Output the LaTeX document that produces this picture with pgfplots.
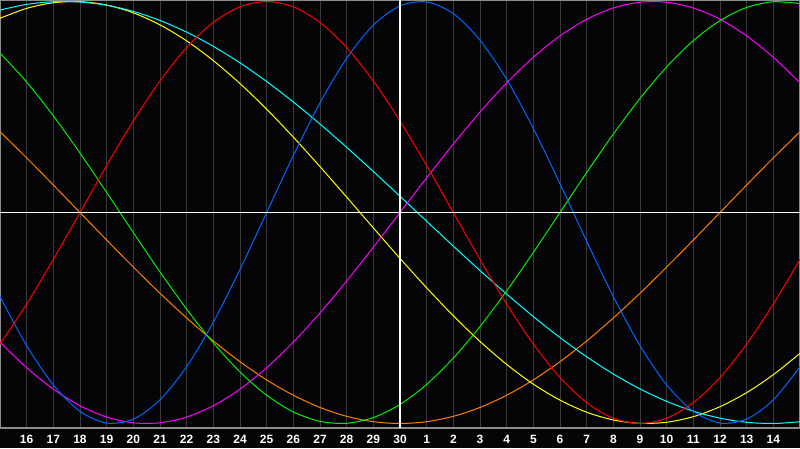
\documentclass[border=0pt]{standalone}
\usepackage{fontspec}
\setmainfont{Liberation Sans}
\usepackage{pgfplots}
\usepackage{pgfplotstable}
\pgfplotsset{compat=1.18}

\definecolor{bgc}{RGB}{5,5,8}
\definecolor{gridc}{RGB}{58,58,58}
\definecolor{framec}{RGB}{140,140,140}
\definecolor{cred}{RGB}{255,0,0}
\definecolor{cblue}{RGB}{0,102,255}
\definecolor{cgreen}{RGB}{0,240,0}
\definecolor{cmag}{RGB}{255,0,255}
\definecolor{ccyan}{RGB}{0,255,255}
\definecolor{cyel}{RGB}{255,255,0}
\definecolor{corange}{RGB}{255,128,0}

% day index k (0 = day 15), curve values between -1 and 1
\pgfplotstableread{
k  red     blue    green   mag     cyan    yel     orange
0  -0.6235 -0.3984  0.7557 -0.6142  0.9598  0.9203  0.3827
1  -0.4339 -0.6311  0.6182 -0.7357  0.9863  0.9675  0.2588
2  -0.2225 -0.8170  0.4582 -0.8372  0.9989  0.9940  0.1305
3   0.0000 -0.9423  0.2817 -0.9158  0.9975  0.9993  0.0000
4   0.2225 -0.9977  0.0951 -0.9694  0.9821  0.9834 -0.1305
5   0.4339 -0.9791 -0.0951 -0.9966  0.9529  0.9464 -0.2588
6   0.6235 -0.8879 -0.2817 -0.9966  0.9103  0.8893 -0.3827
7   0.7818 -0.7308 -0.4582 -0.9694  0.8549  0.8133 -0.5000
8   0.9010 -0.5197 -0.6182 -0.9158  0.7875  0.7199 -0.6088
9   0.9749 -0.2698 -0.7557 -0.8372  0.7093  0.6111 -0.7071
10  1.0000  0.0000 -0.8660 -0.7357  0.6208  0.4894 -0.7934
11  0.9749  0.2698 -0.9450 -0.6142  0.5238  0.3572 -0.8660
12  0.9010  0.5197 -0.9898 -0.4759  0.4193  0.2174 -0.9239
13  0.7818  0.7308 -0.9989 -0.3247  0.3090  0.0730 -0.9659
14  0.6235  0.8879 -0.9718 -0.1646  0.1943 -0.0730 -0.9914
15  0.4339  0.9791 -0.9096  0.0000  0.0770 -0.2174 -1.0000
16  0.2225  0.9977 -0.8146  0.1646 -0.0415 -0.3572 -0.9914
17  0.0000  0.9423 -0.6900  0.3247 -0.1594 -0.4894 -0.9659
18 -0.2225  0.8170 -0.5406  0.4759 -0.2750 -0.6111 -0.9239
19 -0.4339  0.6311 -0.3717  0.6142 -0.3868 -0.7199 -0.8660
20 -0.6235  0.3984 -0.1893  0.7357 -0.4932 -0.8133 -0.7934
21 -0.7818  0.1362  0.0000  0.8372 -0.5926 -0.8893 -0.7071
22 -0.9010 -0.1362  0.1893  0.9158 -0.6839 -0.9464 -0.6088
23 -0.9749 -0.3984  0.3717  0.9694 -0.7654 -0.9834 -0.5000
24 -1.0000 -0.6311  0.5406  0.9966 -0.8360 -0.9993 -0.3827
25 -0.9749 -0.8170  0.6900  0.9966 -0.8950 -0.9940 -0.2588
26 -0.9010 -0.9423  0.8146  0.9694 -0.9415 -0.9675 -0.1305
27 -0.7818 -0.9977  0.9096  0.9158 -0.9747 -0.9203  0.0000
28 -0.6235 -0.9791  0.9718  0.8372 -0.9943 -0.8535  0.1305
29 -0.4339 -0.8879  0.9989  0.7357 -0.9999 -0.7686  0.2588
30 -0.2225 -0.7308  0.9898  0.6142 -0.9915 -0.6673  0.3827
}\bio

\begin{document}
\begin{tikzpicture}
\fill[bgc] (0pt,-20pt) rectangle (800pt,428pt);
\begin{axis}[
    at={(0pt,0pt)}, anchor=south west,
    scale only axis,
    width=800pt, height=428pt,
    xmin=0, xmax=30,
    ymin=-1.0213, ymax=1.0071,
    axis background/.style={fill=bgc},
    axis line style={draw=framec, line width=1.5pt},
    xtick={1,...,29},
    xticklabels={16,17,18,19,20,21,22,23,24,25,26,27,28,29,30,1,2,3,4,5,6,7,8,9,10,11,12,13,14},
    xticklabel style={font=\fontsize{12}{12}\selectfont\bfseries, text=white, anchor=center, yshift=-11pt},
    ytick=\empty,
    major tick length=0pt,
    xmajorgrids,
    grid style={draw=gridc, line width=1pt},
    every axis plot/.append style={line width=1pt, smooth, no markers},
]
\addplot[corange] table[x=k, y=orange] {\bio};
\addplot[cyel] table[x=k, y=yel] {\bio};
\addplot[ccyan] table[x=k, y=cyan] {\bio};
\addplot[cmag] table[x=k, y=mag] {\bio};
\addplot[cgreen] table[x=k, y=green] {\bio};
\addplot[cblue] table[x=k, y=blue] {\bio};
\addplot[cred] table[x=k, y=red] {\bio};
\addplot[white, sharp plot, line width=1.5pt] coordinates {(0,0) (30,0)};
\addplot[white, sharp plot, line width=1.5pt] coordinates {(15,-1.0213) (15,1.0071)};
\end{axis}
\pgfresetboundingbox
\useasboundingbox (0pt,-20pt) rectangle (800pt,428pt);
\end{tikzpicture}
\end{document}
